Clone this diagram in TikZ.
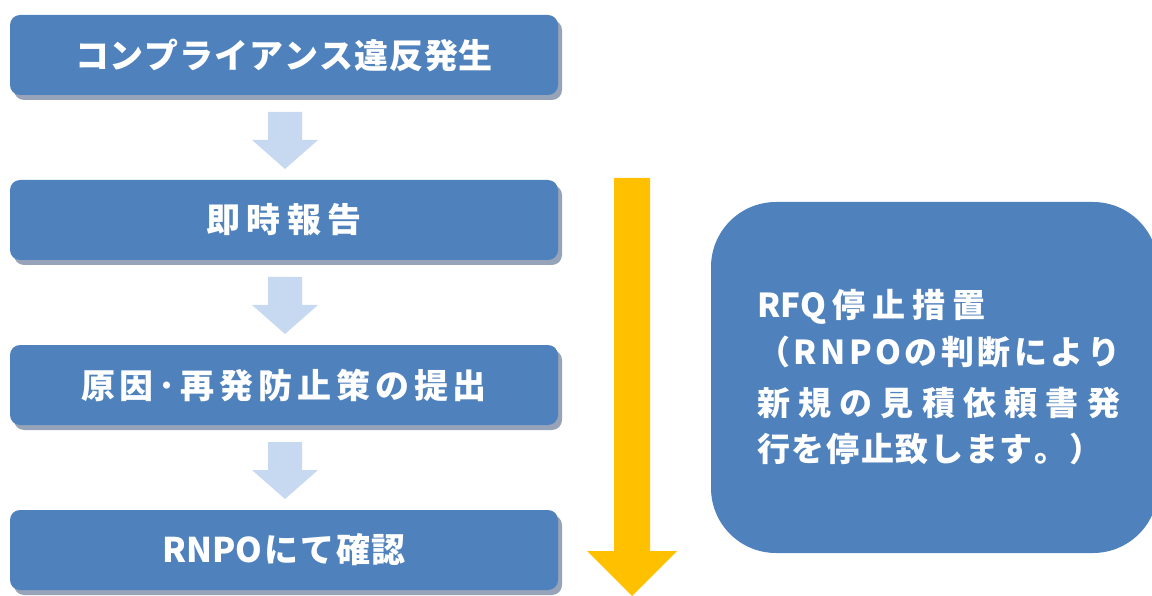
\documentclass[tikz,border=0pt]{standalone}
\usepackage{fontspec}
\newfontfamily\jp{Noto Sans CJK JP}
\usetikzlibrary{shadows}
\definecolor{boxblue}{HTML}{4F81BD}
\definecolor{shadowcol}{HTML}{96A3B8}
\definecolor{lightarrow}{HTML}{C6D9F1}
\definecolor{goldarrow}{HTML}{FFC000}
\tikzset{
  stepbox/.style={fill=boxblue, rounded corners=10pt, minimum width=548pt, minimum height=80pt,
    inner sep=0pt, text=white, font=\jp\bfseries\fontsize{34}{34}\selectfont,
    drop shadow={shadow xshift=4pt, shadow yshift=-5pt, fill=shadowcol, opacity=1}},
  flowarrow/.style={fill=lightarrow},
  bigarrow/.style={fill=goldarrow},
  notebox/.style={fill=boxblue, rounded corners=65pt, minimum width=447pt, minimum height=351pt, inner sep=0pt},
  noteline/.style={anchor=base west, inner sep=0pt, text=white, font=\jp\bfseries\fontsize{33}{33}\selectfont}
}
\begin{document}
\begin{tikzpicture}[x=1pt,y=-1pt]
\useasboundingbox (0,0) rectangle (1152,596);
\clip (0,0) rectangle (1152,596);

% step boxes
\node[stepbox] (s1) at (284,55) {\makebox[418pt][s]{コ\hfill ン\hfill プ\hfill ラ\hfill イ\hfill ア\hfill ン\hfill ス\hfill 違\hfill 反\hfill 発\hfill 生}};
\node[stepbox] (s2) at (284,220) {\makebox[155pt][s]{即\hfill 時\hfill 報\hfill 告}};
\node[stepbox] (s3) at (284,385) {\makebox[406pt][s]{原\hfill 因\hfill ･\hfill 再\hfill 発\hfill 防\hfill 止\hfill 策\hfill の\hfill 提\hfill 出}};
\node[stepbox] (s4) at (284,550) {\makebox[244pt][s]{RNPO\hfill に\hfill て\hfill 確\hfill 認}};

% light blue block arrows between steps
\foreach \dy in {0,165,330}{
  \fill[flowarrow] (268,112+\dy) -- (302,112+\dy) -- (302,140+\dy) -- (318,140+\dy)
    -- (285,169+\dy) -- (252,140+\dy) -- (268,140+\dy) -- cycle;
}

% big yellow arrow
\fill[bigarrow] (614,178) -- (650,178) -- (650,551) -- (677,551) -- (632,596) -- (587,551) -- (614,551) -- cycle;

% note box
\node[notebox] (note) at (934.5,377.5) {};
\node[noteline] (n1) at (757,318) {\makebox[228pt][s]{RFQ\hfill 停\hfill 止\hfill 措\hfill 置}};
\node[noteline] (n2) at (757,364) {\makebox[363pt][s]{（\hfill R\hfill N\hfill P\hfill O\hfill の\hfill 判\hfill 断\hfill に\hfill よ\hfill り}};
\node[noteline] (n3) at (757,415) {\makebox[363pt][s]{新\hfill 規\hfill の\hfill 見\hfill 積\hfill 依\hfill 頼\hfill 書\hfill 発}};
\node[noteline] (n4) at (757,461) {\makebox[345pt][s]{行\hfill を\hfill 停\hfill 止\hfill 致\hfill し\hfill ま\hfill す\hfill 。\hfill ）}};
\end{tikzpicture}
\end{document}
